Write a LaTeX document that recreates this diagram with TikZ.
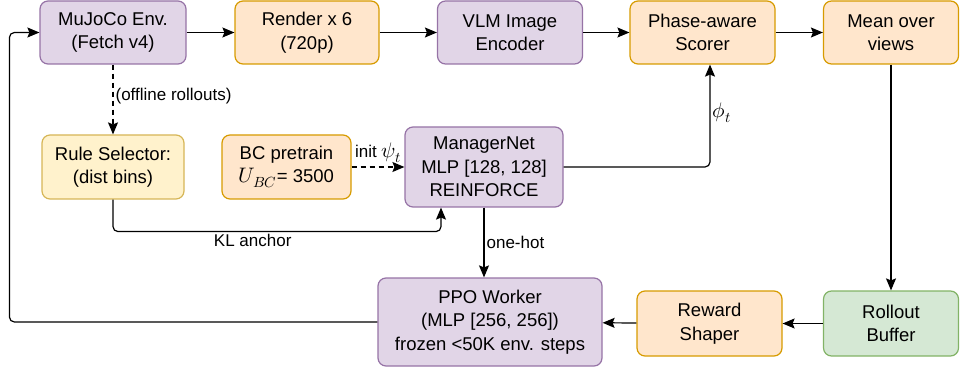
\documentclass[tikz,border=0pt]{standalone}
\usepackage{amsmath}
\usepackage{fontspec}
\usepackage{unicode-math}
\setmainfont{Liberation Sans}
\setmathfont{latinmodern-math.otf}
\usepackage{xcolor}
\usetikzlibrary{arrows.meta, positioning}

\definecolor{purpfill}{HTML}{E1D5E7}
\definecolor{purpline}{HTML}{9673A6}
\definecolor{orfill}{HTML}{FFE6CC}
\definecolor{orline}{HTML}{D79B00}
\definecolor{yelfill}{HTML}{FFF2CC}
\definecolor{yelline}{HTML}{D6B656}
\definecolor{grfill}{HTML}{D5E8D4}
\definecolor{grline}{HTML}{82B366}

% math is set a little larger than the labels
\newcommand{\lmath}[1]{{\fontsize{21}{24}\selectfont$#1$}}

\begin{document}
\begin{tikzpicture}[x=1pt, y=-1pt,
    box/.style={draw, rounded corners=8pt, line width=1.2pt, align=center,
      inner sep=0pt, font=\fontsize{18.5}{23.5}\selectfont},
    purp/.style={box, fill=purpfill, draw=purpline},
    oran/.style={box, fill=orfill, draw=orline},
    yell/.style={box, fill=yelfill, draw=yelline},
    gree/.style={box, fill=grfill, draw=grline},
    flow/.style={-{Stealth[length=12pt, width=10pt, inset=2pt]}, line width=1.2pt},
    dashline/.style={dash pattern=on 5pt off 4pt},
    lbl/.style={font=\fontsize{17}{20}\selectfont, inner sep=2pt}]
  \useasboundingbox (0,0) rectangle (960,371);

  % Top row
  \node[purp, minimum width=146pt, minimum height=63pt] (env) at (113,32.5) {MuJoCo Env.\\(Fetch v4)};
  \node[oran, minimum width=144pt, minimum height=63pt] (render) at (307,32.5) {Render x 6\\(720p)};
  \node[purp, minimum width=145pt, minimum height=63pt] (vlm) at (510,32.5) {VLM Image\\Encoder};
  \node[oran, minimum width=145pt, minimum height=63pt] (scorer) at (702.5,32.5) {Phase-aware\\Scorer};
  \node[oran, minimum width=135pt, minimum height=63pt] (mean) at (891,32.5) {Mean over\\views};

  % Middle row
  \node[yell, minimum width=142pt, minimum height=64pt] (rule) at (113,167) {Rule Selector:\\(dist bins)};
  \node[oran, minimum width=129pt, minimum height=64pt] (bc) at (286.5,167) {BC pretrain\\\lmath{U_{BC}}= 3500};
  \node[purp, minimum width=158pt, minimum height=80pt] (mgr) at (484,167) {ManagerNet\\MLP [128, 128]\\REINFORCE};

  % Bottom row
  \node[purp, minimum width=224pt, minimum height=88pt] (ppo) at (490,322) {PPO Worker\\(MLP [256, 256])\\frozen <50K env. steps};
  \node[oran, minimum width=145pt, minimum height=65pt] (shaper) at (709.5,323.5) {Reward\\Shaper};
  \node[gree, minimum width=135pt, minimum height=65pt] (rollout) at (891,323.5) {Rollout\\Buffer};

  % Pipeline
  \draw[flow] (env) -- (render);
  \draw[flow] (render) -- (vlm);
  \draw[flow] (vlm) -- (scorer);
  \draw[flow] (scorer) -- (mean);
  \draw[flow] (mean) -- (rollout);
  \draw[flow] (rollout) -- (shaper);
  \draw[flow] (shaper) -- (ppo);
  \draw[flow, rounded corners=5pt] (ppo.west) -- ++(-368,0) |- (env.west);

  % Manager side
  \draw[flow, dashline] (env) -- node[lbl, right, pos=0.45] {(offline rollouts)} (rule);
  \draw[flow, dashline] (bc) -- node[lbl, above, inner sep=1pt, yshift=3pt] {init \lmath{\psi_t}} (mgr);
  \draw[flow, rounded corners=5pt] (rule.south) |- node[lbl, below, pos=0.713] {KL anchor}
    ([xshift=-43pt, yshift=-24pt]mgr.south) -- ([xshift=-43pt]mgr.south);
  \draw[flow, rounded corners=5pt] (mgr.east) -| node[lbl, right, pos=0.765] {\lmath{\phi_t}} ([xshift=7.5pt]scorer.south);
  \draw[flow] (mgr.south) -- node[lbl, right] {one-hot} (mgr.south |- ppo.north);
\end{tikzpicture}
\end{document}
